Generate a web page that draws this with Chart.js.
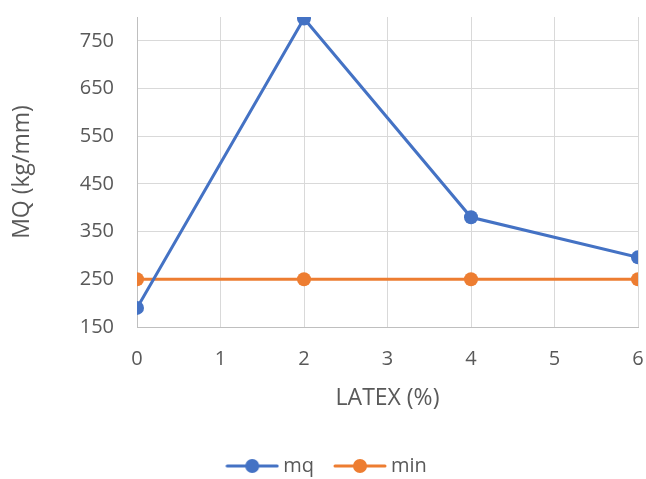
<!DOCTYPE html>
<html>
<head>
<meta charset="utf-8">
<script src="https://cdn.jsdelivr.net/npm/chart.js@4"></script>
<style>
  html, body { margin: 0; padding: 0; background: #fff; }
  #wrap { width: 646px; height: 479px; }
</style>
</head>
<body>
<div id="wrap"><canvas id="mqChart"></canvas></div>
<script>
// MQ vs latex content — Excel-style line chart with markers

const latexPct = [0, 2, 4, 6];
const mqValues = [190, 797, 380, 296];
const minValues = [250, 250, 250, 250];
const yTickValues = [150, 250, 350, 450, 550, 650, 750];

const TEXT = '#595959';
const GRID = '#d9d9d9';
const FONT = "'Open Sans', sans-serif";

// legend marker: short line with a dot in the middle, like Excel
function makeMarker(color) {
  const c = document.createElement('canvas');
  c.width = 54; c.height = 16;
  const g = c.getContext('2d');
  g.strokeStyle = color;
  g.lineWidth = 3;
  g.lineCap = 'round';
  g.beginPath(); g.moveTo(2, 8); g.lineTo(52, 8); g.stroke();
  g.fillStyle = color;
  g.beginPath(); g.arc(27, 8, 7, 0, Math.PI * 2); g.fill();
  return c;
}

function toPoints(ys) {
  return latexPct.map((x, i) => ({ x, y: ys[i] }));
}

const series = [
  { label: 'mq', data: mqValues, color: '#4472c4' },
  { label: 'min', data: minValues, color: '#ed7d31' }
];

const datasets = series.map(s => ({
  label: s.label,
  data: toPoints(s.data),
  borderColor: s.color,
  backgroundColor: s.color,
  borderWidth: 3,
  pointRadius: 7,
  pointHoverRadius: 7,
  pointBorderWidth: 0,
  tension: 0,
  fill: false
}));

const markers = series.map(s => makeMarker(s.color));

// the legend row is centred including its trailing padding; nudge it back
const legendNudge = {
  id: 'legendNudge',
  afterLayout: chart => {
    chart.legend.left += 10;
    chart.legend.right += 10;
  }
};

new Chart(document.getElementById('mqChart'), {
  type: 'line',
  data: { datasets },
  plugins: [legendNudge],
  options: {
    responsive: true,
    maintainAspectRatio: false,
    animation: false,
    layout: { autoPadding: false, padding: { left: 0, right: 8, top: 17, bottom: -7 } },
    plugins: {
      tooltip: { enabled: false },
      legend: {
        position: 'bottom',
        labels: {
          color: TEXT,
          font: { family: FONT, size: 20 },
          usePointStyle: true,
          pointStyleWidth: 42,
          padding: 25,
          generateLabels: chart => {
            const items = Chart.defaults.plugins.legend.labels.generateLabels(chart);
            items.forEach((it, i) => { it.pointStyle = markers[i]; });
            return items;
          }
        }
      }
    },
    scales: {
      x: {
        type: 'linear',
        min: 0,
        max: 6,
        ticks: { stepSize: 1, color: TEXT, font: { family: FONT, size: 20 }, padding: 20 },
        grid: { color: GRID, drawTicks: false },
        border: { color: '#bfbfbf' },
        title: { display: true, text: 'LATEX (%)', color: TEXT, font: { family: FONT, size: 23 }, padding: { top: 4, bottom: 19 } },
        afterFit: scale => {
          scale.height = 104;
          scale.paddingLeft = 0;
          scale.paddingRight = 0;
        }
      },
      y: {
        min: 150,
        max: 800,
        afterBuildTicks: scale => { scale.ticks = yTickValues.map(v => ({ value: v })); },
        ticks: { color: TEXT, font: { family: FONT, size: 20 }, padding: 23 },
        grid: { color: GRID, drawTicks: false },
        border: { color: '#bfbfbf' },
        title: { display: true, text: 'MQ (kg/mm)', color: TEXT, font: { family: FONT, size: 23 }, padding: { top: 9, bottom: 0 } },
        afterFit: scale => {
          scale.width = 137;
          scale.paddingTop = 0;
          scale.paddingBottom = 0;
        }
      }
    }
  }
});
</script>
</body>
</html>
